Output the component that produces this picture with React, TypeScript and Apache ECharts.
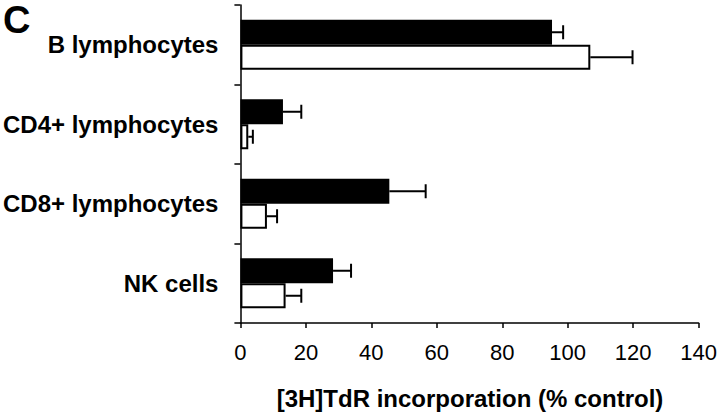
import React, { useEffect, useRef } from "react";
import * as echarts from "echarts";

const categories = ["B lymphocytes", "CD4+ lymphocytes", "CD8+ lymphocytes", "NK cells"];
const blackValues = [95.2, 13, 45.5, 28.3];
const blackErrors = [3.4, 5.6, 11.1, 5.5];
const whiteValues = [106.9, 2.4, 8.1, 13.8];
const whiteErrors = [12.9, 1.4, 3.1, 4.8];
const xTicks = [0, 140, 20];
const panelLetter = "C";
const axisTitle = "[3H]TdR incorporation (% control)";

const FONT = "'Liberation Sans', Arial, Helvetica, sans-serif";
const BAR_W = 25;

export default function App() {
  const ref = useRef<HTMLDivElement>(null);
  useEffect(() => {
    document.body.style.margin = "0";
    if (!ref.current) return;
    const chart = echarts.init(ref.current, undefined, { renderer: "svg" });

    const errData = (vals: number[], errs: number[]) =>
      vals.map((v, i) => [v, i, v + errs[i]]);

    const makeErr = (offsetSign: number) => (params: any, api: any) => {
      const v = api.value(0);
      const idx = api.value(1);
      const hi = api.value(2);
      const p0 = api.coord([v, idx]);
      const p1 = api.coord([hi, idx]);
      const y = p0[1] + offsetSign * (BAR_W / 2);
      const cap = 7;
      const st = { stroke: "#000", lineWidth: 2 };
      return {
        type: "group",
        children: [
          { type: "line", shape: { x1: p0[0], y1: y, x2: p1[0], y2: y }, style: st },
          { type: "line", shape: { x1: p1[0], y1: y - cap, x2: p1[0], y2: y + cap }, style: st },
        ],
      };
    };

    chart.setOption({
      animation: false,
      backgroundColor: "#fff",
      grid: { left: 239, right: 19, top: 5, bottom: 91 },
      xAxis: {
        type: "value",
        min: xTicks[0],
        max: xTicks[1],
        interval: xTicks[2],
        splitLine: { show: false },
        axisLine: { show: true, lineStyle: { color: "#000", width: 1.5 } },
        axisTick: { show: true, length: 5, lineStyle: { color: "#000", width: 1.5 } },
        axisLabel: { color: "#000", fontSize: 22, fontFamily: FONT, margin: 18 },
      },
      yAxis: {
        type: "category",
        data: categories,
        inverse: true,
        axisLine: { show: true, lineStyle: { color: "#000", width: 1.5 } },
        axisTick: { show: true, length: 6, alignWithLabel: false, lineStyle: { color: "#000", width: 1.5 } },
        axisLabel: { color: "#000", fontSize: 24, fontWeight: "bold", fontFamily: FONT, margin: 22 },
      },
      graphic: [
        {
          type: "text",
          left: 3,
          top: 1,
          style: { text: panelLetter, font: `bold 38px ${FONT}`, fill: "#000" },
        },
        {
          type: "text",
          x: 470,
          y: 398,
          style: {
            text: axisTitle,
            font: `bold 24px ${FONT}`,
            fill: "#000",
            textAlign: "center",
            textVerticalAlign: "middle",
          },
        },
      ],
      series: [
        {
          type: "bar",
          data: blackValues,
          barWidth: BAR_W,
          barGap: "0%",
          itemStyle: { color: "#000", borderColor: "#000", borderWidth: 0 },
          z: 2,
        },
        {
          type: "bar",
          data: whiteValues,
          barWidth: BAR_W,
          barGap: "0%",
          itemStyle: { color: "#fff", borderColor: "#000", borderWidth: 2 },
          z: 2,
        },
        {
          type: "custom",
          renderItem: makeErr(-1),
          data: errData(blackValues, blackErrors),
          encode: { x: [0, 2], y: 1 },
          z: 3,
        },
        {
          type: "custom",
          renderItem: makeErr(1),
          data: errData(whiteValues, whiteErrors),
          encode: { x: [0, 2], y: 1 },
          z: 3,
        },
      ],
    });
    return () => chart.dispose();
  }, []);
  return <div ref={ref} style={{ width: 720, height: 414 }} />;
}
